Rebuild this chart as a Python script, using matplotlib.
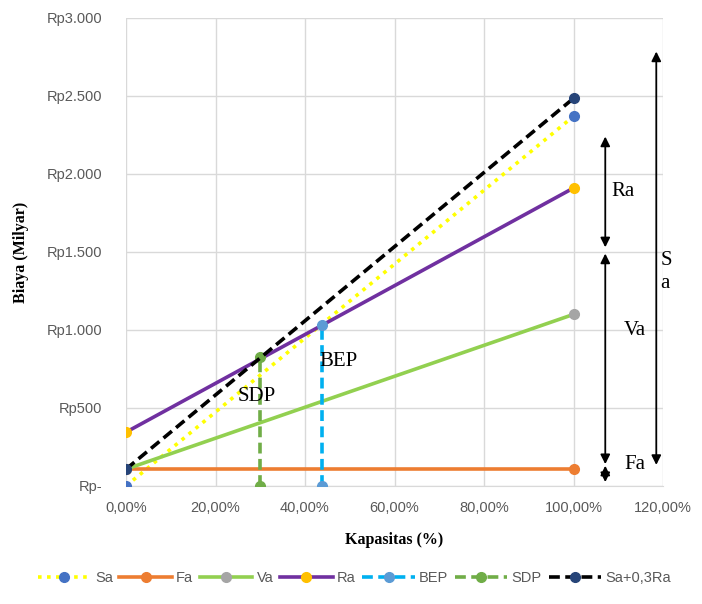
import matplotlib
matplotlib.use("Agg")
import matplotlib.pyplot as plt
from matplotlib.ticker import FixedLocator, FixedFormatter

# ---- data (x in % capacity, y in Rp Milyar) ----
sa_x = [0, 100]
sa_y = [0, 2370]
fa_x = [0, 100]
fa_y = [108, 108]
va_x = [0, 100]
va_y = [108, 1100]
ra_x = [0, 100]
ra_y = [345, 1910]
bep_x = [43.75, 43.75]
bep_y = [0, 1035]
sdp_x = [30, 30]
sdp_y = [0, 825]
sar_x = [0, 100]
sar_y = [108, 2485]

x_ticks = [0, 20, 40, 60, 80, 100, 120]
x_labels = ["0,00%", "20,00%", "40,00%", "60,00%", "80,00%", "100,00%", "120,00%"]
y_ticks = [0, 500, 1000, 1500, 2000, 2500, 3000]
y_labels = ["Rp-", "Rp500", "Rp1.000", "Rp1.500", "Rp2.000", "Rp2.500", "Rp3.000"]

fig = plt.figure(figsize=(7.02, 6.04), dpi=100)
ax = fig.add_axes([126/702, 1-486/604, (663-126)/702, (486-18)/604])

lw = 2.6
ms = 7
ax.plot(sa_x, sa_y, color="#FFFF00", lw=lw, ls=(0, (1, 1.5)), marker="o", ms=ms,
        mfc="#4472C4", mec="#4472C4", label="Sa", zorder=3)
ax.plot(fa_x, fa_y, color="#ED7D31", lw=lw, marker="o", ms=ms,
        mfc="#ED7D31", mec="#ED7D31", label="Fa", zorder=3)
ax.plot(va_x, va_y, color="#92D050", lw=lw, marker="o", ms=ms,
        mfc="#A5A5A5", mec="#A5A5A5", label="Va", zorder=3)
ax.plot(ra_x, ra_y, color="#7030A0", lw=lw, marker="o", ms=ms,
        mfc="#FFC000", mec="#FFC000", label="Ra", zorder=3)
ax.plot(bep_x, bep_y, color="#00B0F0", lw=lw, ls=(0, (3, 1.5)), marker="o", ms=ms,
        mfc="#5B9BD5", mec="#5B9BD5", label="BEP", zorder=3)
ax.plot(sdp_x, sdp_y, color="#70AD47", lw=lw, ls=(0, (3, 1.5)), marker="o", ms=ms,
        mfc="#70AD47", mec="#70AD47", label="SDP", zorder=3)
ax.plot(sar_x, sar_y, color="#000000", lw=lw, ls=(0, (3, 1.5)), marker="o", ms=ms,
        mfc="#264478", mec="#264478", label="Sa+0,3Ra", zorder=3)

ax.set_xlim(0, 120)
ax.set_ylim(0, 3000)
ax.xaxis.set_major_locator(FixedLocator(x_ticks))
ax.xaxis.set_major_formatter(FixedFormatter(x_labels))
ax.yaxis.set_major_locator(FixedLocator(y_ticks))
ax.yaxis.set_major_formatter(FixedFormatter(y_labels))
ax.tick_params(length=0, labelsize=10.5, labelcolor="#595959")
ax.tick_params(axis="y", pad=17)
ax.tick_params(axis="x", pad=11)
for lab in ax.get_xticklabels() + ax.get_yticklabels():
    lab.set_fontfamily("Liberation Sans")
ax.grid(True, color="#D9D9D9", lw=1)
ax.set_axisbelow(True)
for s in ax.spines.values():
    s.set_visible(False)
ax.spines["bottom"].set_visible(True)
ax.spines["bottom"].set_color("#D9D9D9")

ax.set_xlabel("Kapasitas (%)", fontfamily="Liberation Serif", fontweight="bold",
              fontsize=11.5, labelpad=12)
ax.set_ylabel("Biaya (Milyar)", fontfamily="Liberation Serif", fontweight="bold",
              fontsize=11.5, labelpad=13)

# annotation arrows
def dbl(x, y0, y1):
    ax.annotate("", xy=(x, y1), xytext=(x, y0),
                arrowprops=dict(arrowstyle="<|-|>", color="black", lw=1.3,
                                mutation_scale=14, shrinkA=0, shrinkB=0),
                annotation_clip=False, zorder=5)

dbl(107.1, 1530, 2240)
dbl(107.1, 140, 1490)
dbl(107.1, 25, 130)
dbl(118.5, 135, 2785)

tf = dict(fontfamily="Liberation Serif", fontsize=15, color="black", zorder=6)
ax.text(108.5, 1885, "Ra", ha="left", va="center", **tf)
ax.text(111.3, 995, "Va", ha="left", va="center", **tf)
ax.text(111.3, 140, "Fa", ha="left", va="center", **tf)
ax.text(119.4, 1370, "S\na", ha="left", va="center", multialignment="left",
        linespacing=1.3, **tf)
ax.text(43.2, 795, "BEP", ha="left", va="center", **tf)
ax.text(25, 575, "SDP", ha="left", va="center", **tf)

leg = fig.legend(loc="center", bbox_to_anchor=(0.505, 1-578/604), ncol=7,
                 frameon=False, handlelength=3.6, columnspacing=0.45,
                 handletextpad=0.3, prop={"family": "Liberation Sans", "size": 10.5})
for t in leg.get_texts():
    t.set_color("#595959")

fig.savefig("out.png", dpi=100)
